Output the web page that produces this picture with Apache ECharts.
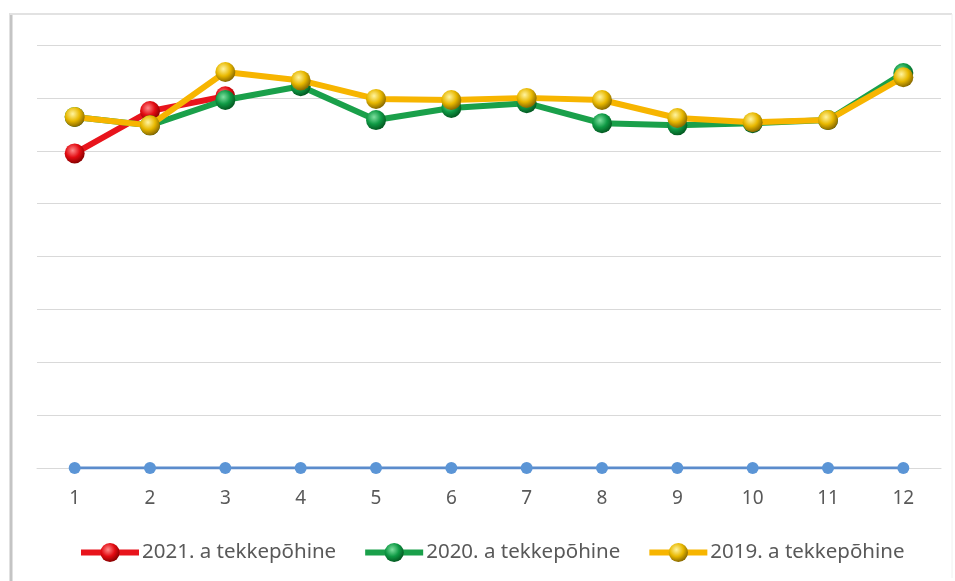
<!DOCTYPE html>
<html><head><meta charset="utf-8">
<script src="https://cdn.jsdelivr.net/npm/echarts@6/dist/echarts.min.js"></script>
<style>html,body{margin:0;padding:0;background:#fff;}#c{width:955px;height:581px;}</style>
</head><body><div id="c"></div>
<script>
const months = ['1','2','3','4','5','6','7','8','9','10','11','12'];
const s2021 = [5.95, 6.75, 7.03, null, null, null, null, null, null, null, null, null];
const s2020 = [6.64, 6.48, 6.96, 7.22, 6.58, 6.81, 6.90, 6.52, 6.48, 6.52, 6.58, 7.47];
const s2019 = [6.64, 6.48, 7.49, 7.33, 6.98, 6.96, 7.00, 6.96, 6.62, 6.54, 6.58, 7.39];
const sBase = [0, 0, 0, 0, 0, 0, 0, 0, 0, 0, 0, 0];
const names = ['2021. a tekkepõhine', '2020. a tekkepõhine', '2019. a tekkepõhine'];

function ball(light, mid, dark) {
  return new echarts.graphic.RadialGradient(0.4, 0.35, 0.65, [
    {offset: 0, color: light}, {offset: 0.55, color: mid}, {offset: 1, color: dark}
  ]);
}
const font = 'Noto Sans';
function lineSeries(name, data, lineColor, fill, z) {
  return {
    name, type: 'line', data, z,
    symbol: 'circle', symbolSize: 20, connectNulls: false,
    lineStyle: {color: lineColor, width: 6},
    itemStyle: {color: fill, borderWidth: 0},
    emphasis: {disabled: true}
  };
}
const chart = echarts.init(document.getElementById('c'), null, {renderer: 'canvas'});
chart.setOption({
  animation: false,
  graphic: [
    {type: 'line', shape: {x1: 11, y1: 13, x2: 11, y2: 581}, style: {stroke: '#c4c4c4', lineWidth: 3}},
    {type: 'line', shape: {x1: 10, y1: 14, x2: 952, y2: 14}, style: {stroke: '#e2e2e2', lineWidth: 2}},
    {type: 'line', shape: {x1: 952, y1: 14, x2: 952, y2: 578}, style: {stroke: '#f0f0f0', lineWidth: 1}}
  ],
  grid: {left: 37, right: 14, top: 45, bottom: 113},
  legend: {
    data: names, top: 537, left: 73, itemWidth: 58, itemHeight: 24, itemGap: 26,
    lineStyle: {width: 6},
    textStyle: {fontFamily: font, fontSize: 20.5, color: '#595959', padding: [0, 0, 0, -2]}
  },
  xAxis: {
    type: 'category', data: months, boundaryGap: true,
    axisLine: {lineStyle: {color: '#d9d9d9', width: 1}},
    axisTick: {show: false},
    axisLabel: {fontFamily: font, fontSize: 19, color: '#595959', margin: 21}
  },
  yAxis: {
    type: 'value', min: 0, max: 8, interval: 1,
    axisLabel: {show: false}, axisLine: {show: false}, axisTick: {show: false},
    splitLine: {lineStyle: {color: '#d9d9d9', width: 1}}
  },
  series: [
    {name: 'base', type: 'line', data: sBase, z: 1, symbol: 'circle', symbolSize: 12,
     lineStyle: {color: '#5b8ccc', width: 3}, itemStyle: {color: '#5b95d6'}, emphasis: {disabled: true}},
    lineSeries(names[0], s2021, '#e8141c', ball('#ff8a8a', '#e30b12', '#8a0000'), 2),
    lineSeries(names[1], s2020, '#1aa04a', ball('#7fe0a0', '#0f9a45', '#045a22'), 3),
    lineSeries(names[2], s2019, '#f7b500', ball('#fff4a0', '#e8b800', '#8a6a00'), 4)
  ]
});
</script></body></html>
